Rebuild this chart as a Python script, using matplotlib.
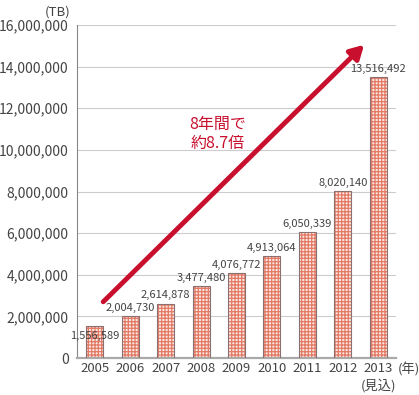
import matplotlib
matplotlib.use("Agg")
import matplotlib.pyplot as plt
from matplotlib.ticker import FuncFormatter

plt.rcParams['font.family'] = ['Noto Sans CJK JP', 'DejaVu Sans']
plt.rcParams['hatch.linewidth'] = 0.9

years = ["2005", "2006", "2007", "2008", "2009", "2010", "2011", "2012", "2013"]
values = [1556589, 2004730, 2614878, 3477480, 4076772, 4913064, 6050339, 8020140, 13516492]
labels = ["1,556,589", "2,004,730", "2,614,878", "3,477,480", "4,076,772",
          "4,913,064", "6,050,339", "8,020,140", "13,516,492"]
yticks = [0, 2000000, 4000000, 6000000, 8000000, 10000000, 12000000, 14000000, 16000000]

TXT = "#444444"
RED = "#c8102e"

fig = plt.figure(figsize=(4.19, 3.95), dpi=100)
ax = fig.add_axes([77 / 419, 1 - 358 / 395, 319 / 419, 333 / 395])

x = list(range(len(years)))
ax.bar(x, values, width=0.48, color="#fbe6e0", edgecolor="#e27a66", hatch="+++++",
       linewidth=0, zorder=2)
ax.bar(x, values, width=0.48, fill=False, edgecolor="#8a7070", linewidth=0.8, zorder=3)

for i, (v, lab) in enumerate(zip(values, labels)):
    if i == 0:
        ax.text(i, v - 520000, lab, ha="center", va="center", fontsize=8, color=TXT, zorder=4)
    else:
        ax.text(i, v + 150000, lab, ha="center", va="bottom", fontsize=8, color=TXT, zorder=4)

ax.set_xlim(-0.5, 8.5)
ax.set_ylim(0, 16000000)
ax.set_yticks(yticks)
ax.yaxis.set_major_formatter(FuncFormatter(lambda y, _: f"{int(y):,}"))
ax.set_xticks(x)
ax.set_xticklabels(years)
ax.tick_params(axis="both", length=0, labelsize=9.5, colors=TXT)
ax.tick_params(axis="y", labelsize=10, pad=6)
ax.tick_params(axis="x", pad=3)
ax.grid(axis="y", color="#cccccc", linewidth=0.8, zorder=0)
ax.set_axisbelow(True)
for s in ["top", "right"]:
    ax.spines[s].set_visible(False)
ax.spines["left"].set_color("#888888")
ax.spines["left"].set_linewidth(0.8)
ax.spines["bottom"].set_color("#aaaaaa")
ax.spines["bottom"].set_linewidth(1.6)

# growth arrow
ax.annotate("", xy=(7.6, 15050000), xytext=(0.24, 2700000),
            arrowprops=dict(arrowstyle="-|>,head_length=0.8,head_width=0.45",
                            color=RED, lw=3.5, shrinkA=0, shrinkB=0), zorder=5)
ax.text(3.48, 10770000, "8年間で\n約8.7倍", ha="center", va="center", fontsize=11.5,
        color=RED, linespacing=1.15, zorder=5)

fig.text(70 / 419, 1 - 12 / 395, "(TB)", ha="right", va="center", fontsize=9.5, color=TXT)
fig.text(398 / 419, 1 - 370 / 395, "(年)", ha="left", va="center", fontsize=9.5, color=TXT)
fig.text(378 / 419, 1 - 386 / 395, "(見込)", ha="center", va="center", fontsize=9.5, color=TXT)

fig.savefig("out.png", dpi=100, facecolor="white")
